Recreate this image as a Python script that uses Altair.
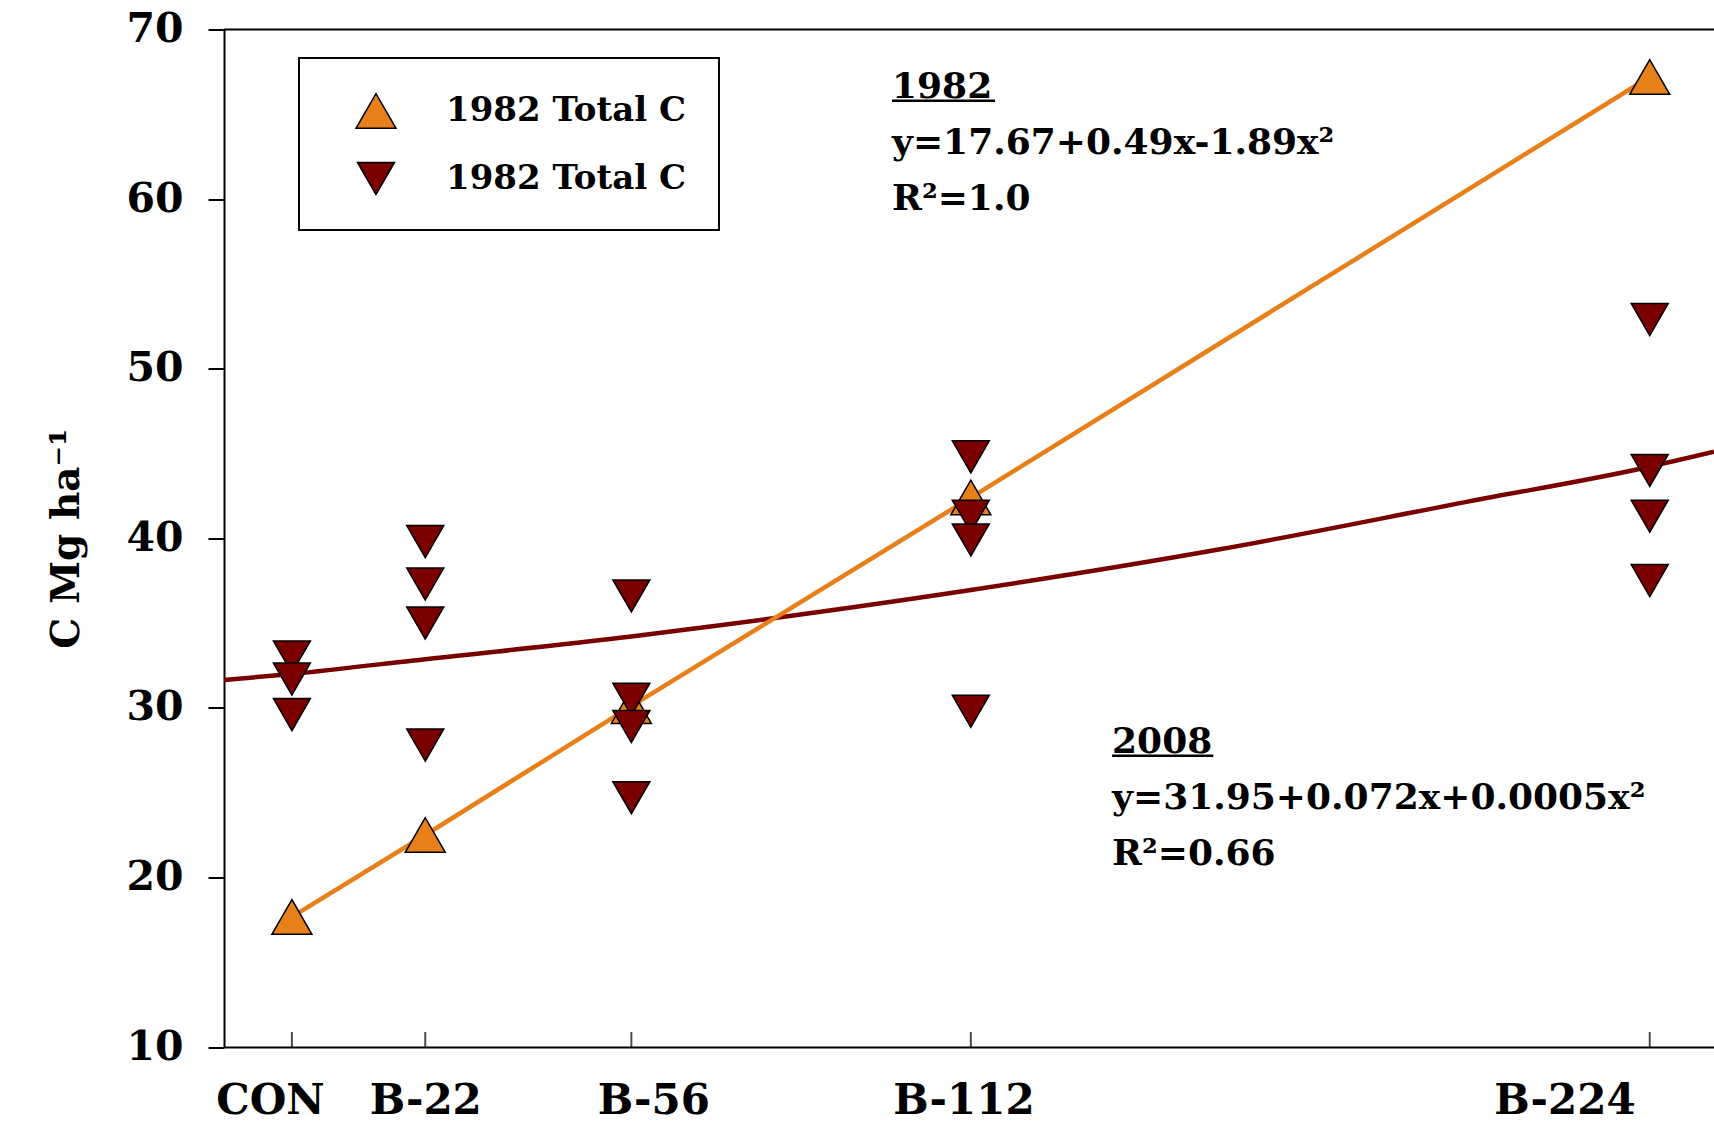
import altair as alt
import pandas as pd

# ---------------- data ----------------
doses = [0, 22, 56, 112, 224]
dose_labels = ["CON", "B-22", "B-56", "B-112", "B-224"]

c1982 = [17.67, 22.5, 30.1, 42.4, 67.2]

c2008_dose = [0, 0, 0, 22, 22, 22, 22, 56, 56, 56, 56, 112, 112, 112, 112, 224, 224, 224, 224]
c2008 = [33.0, 31.7, 29.6, 39.8, 37.3, 35.0, 27.8, 36.6, 30.5, 28.9, 24.7,
         44.8, 41.3, 39.9, 29.8, 52.9, 44.0, 41.3, 37.5]

# fitted 2008 curve
curve_dose = [-11.2, 0, 22, 56, 71.3, 112, 153.1, 194, 224, 234.6]
curve_c = [31.64, 32.0, 32.87, 34.2, 34.9, 36.95, 39.35, 42.16, 44.22, 45.1]

series_names = ["1982", "2008"]
legend_label = "1982 Total C"

ann_text = ["1982\ny=17.67+0.49x-1.89x\u00b2\nR\u00b2=1.0",
            "2008\ny=31.95+0.072x+0.0005x\u00b2\nR\u00b2=0.66"]
ann_dose = [99.0, 135.3]
ann_c = [65.96, 27.34]
# underline under the year headings
ul_dose = [99.0, 135.3]
ul_dose2 = [116.0, 152.0]
ul_c = [65.8, 27.18]

y_title = "C Mg ha\u207b\u00b9"

# ---------------- styling ----------------
FONT = "DejaVu Serif"
ORANGE = "#E8801A"
DARKRED = "#7A0000"

pts = pd.DataFrame({
    "dose": doses + c2008_dose,
    "c": c1982 + c2008,
    "series": [series_names[0]] * len(doses) + [series_names[1]] * len(c2008),
})
line82 = pd.DataFrame({"dose": doses, "c": c1982})
curve = pd.DataFrame({"dose": curve_dose, "c": curve_c})
ann = pd.DataFrame({"dose": ann_dose, "c": ann_c, "t": ann_text})
ul = pd.DataFrame({"dose": ul_dose, "dose2": ul_dose2, "c": ul_c})
ticks = pd.DataFrame({"dose": doses, "lab": dose_labels})

xs = alt.Scale(domain=[-11.2, 234.6], nice=False, zero=False)
ys = alt.Scale(domain=[10, 70], nice=False, zero=False)

nb = "\u00a0"
zw = "\u200b"
lab_map = {0: dose_labels[0] + nb * 3 + zw,
           22: dose_labels[1],
           56: zw + nb * 3 + dose_labels[2],
           112: dose_labels[3] + nb + zw,
           224: dose_labels[4] + nb + zw}
label_expr = "{" + ",".join(f"'{k}':'{v}'" for k, v in lab_map.items()) + "}[datum.value]"

x_axis = alt.Axis(values=doses, labelExpr=label_expr, ticks=False, tickSize=0,
                  labelPadding=33, labelBaseline="top", labelFont=FONT, labelFontSize=42,
                  labelFontWeight="bold", labelColor="black", domainColor="black",
                  domainWidth=2, grid=False, title=None, labelFlush=False, labelOverlap=False,
                  labelLimit=0,
                  labelAlign={"condition": {"test": "datum.value == 224", "value": "right"},
                              "value": "center"})
y_axis = alt.Axis(values=[10, 20, 30, 40, 50, 60, 70], tickSize=16, tickWidth=2, tickColor="black",
                  labelPadding=25, labelFont=FONT, labelFontSize=41, labelFontWeight="bold",
                  labelColor="black", domainColor="black", domainWidth=2, grid=False,
                  title=y_title, titleFont=FONT, titleFontSize=39, titleFontWeight="bold",
                  titleColor="black", titleX=-146, titleY=508.75, titleAngle=270,
                  titleBaseline="alphabetic", titleAlign="center", labelFlush=False)

l_line82 = alt.Chart(line82).mark_line(color=ORANGE, strokeWidth=4.5).encode(
    x=alt.X("dose:Q", scale=xs, axis=x_axis),
    y=alt.Y("c:Q", scale=ys, axis=y_axis),
    order="dose:Q",
)
l_curve = alt.Chart(curve).mark_line(color=DARKRED, strokeWidth=4.5, interpolate="monotone").encode(
    x=alt.X("dose:Q", scale=xs), y=alt.Y("c:Q", scale=ys), order="dose:Q"
)
l_pts = alt.Chart(pts).mark_point(filled=True, opacity=1, stroke="black", strokeWidth=1.5).encode(
    x=alt.X("dose:Q", scale=xs),
    y=alt.Y("c:Q", scale=ys),
    color=alt.Color("series:N", scale=alt.Scale(domain=series_names, range=[ORANGE, DARKRED]),
                    legend=alt.Legend(title=None, labelExpr=f"'{legend_label}'")),
    shape=alt.Shape("series:N", scale=alt.Scale(domain=series_names, range=["triangle-up", "triangle-down"]),
                    legend=alt.Legend(title=None, labelExpr=f"'{legend_label}'")),
    size=alt.Size("series:N", scale=alt.Scale(domain=series_names, range=[1600, 1370]), legend=None),
)
l_ticks = alt.Chart(ticks).mark_tick(color="black", thickness=2, size=30, clip=True, orient="vertical").encode(
    x=alt.X("dose:Q", scale=xs), y=alt.Y("y:Q", scale=ys)
).transform_calculate(y="10")
l_top = alt.Chart(pd.DataFrame({"c": [70]})).mark_rule(color="black", strokeWidth=2).encode(
    y=alt.Y("c:Q", scale=ys)
)
l_ann = alt.Chart(ann).mark_text(align="left", baseline="alphabetic", font=FONT, fontSize=36,
                                 fontWeight="bold", color="black", lineBreak="\n", lineHeight=56).encode(
    x=alt.X("dose:Q", scale=xs), y=alt.Y("c:Q", scale=ys), text="t:N"
)
l_ul = alt.Chart(ul).mark_rule(color="black", strokeWidth=2.5).encode(
    x=alt.X("dose:Q", scale=xs), x2="dose2:Q", y=alt.Y("c:Q", scale=ys)
)

chart = alt.layer(l_curve, l_line82, l_ticks, l_top, l_pts, l_ann, l_ul).properties(
    width=1490, height=1017.5,
    autosize=alt.AutoSizeParams(type="none"),
    padding={"left": 224, "top": 29.5, "right": 0, "bottom": 77},
    background="white",
).configure_view(stroke=None).configure_legend(
    orient="none", legendX=75, legendY=28.5, padding=32, strokeColor="black", strokeWidth=2,
    fillColor="white", symbolOffset=24, labelOffset=49, rowPadding=27, symbolSize=1500,
    labelFont=FONT, labelFontSize=34, labelFontWeight="bold", labelColor="black", labelLimit=0,
    symbolStrokeColor="black", symbolStrokeWidth=1.5, symbolType="circle",
)

chart.save("out.html", embed_options={"renderer": "svg", "actions": False})
